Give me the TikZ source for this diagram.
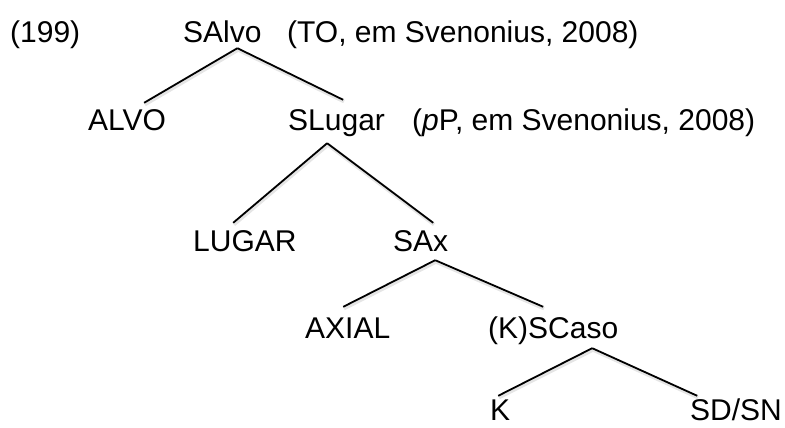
\documentclass[tikz,border=0pt]{standalone}
\usepackage{fontspec}
\setmainfont{Liberation Sans}
\usepackage{tikz}
\usetikzlibrary{positioning}

\begin{document}
\begin{tikzpicture}[
  x=1pt, y=-1pt,
  font=\fontsize{30}{36}\selectfont,
  cat/.style={anchor=base west, inner sep=0pt, text height=21pt, text depth=6pt},
  note/.style={cat},
  branch/.style={line width=1.8pt,
    preaction={draw=black!10, line width=3.5pt, transform canvas={shift={(0.8pt,-1.8pt)}}}},
]
\useasboundingbox (0,0) rectangle (785,428);

% labels, one row per level
\node[cat] (num) at (10,43) {(199)};
\node[cat] (salvo) at (183,43) {SAlvo};
\node[note] (salvo-note) at (287,43) {(TO, em Svenonius, 2008)};

\node[cat] (alvo) at (88,131) {ALVO};
\node[cat] (slugar) at (288,131) {SLugar};
\node[note] (slugar-note) at (412,131) {(\textit{p}P, em Svenonius, 2008)};

\node[cat] (lugar) at (193,251) {LUGAR};
\node[cat] (sax) at (393,251) {SAx};

\node[cat] (axial) at (305,338) {AXIAL};
\node[cat] (kscaso) at (488,338) {(K)SCaso};

\node[cat] (k) at (490,420) {K};
\node[cat] (sdsn) at (690,420) {SD/SN};

% branches
\draw[branch] ([xshift=15pt,yshift=1pt]salvo.south) -- ([xshift=17pt,yshift=7pt]alvo.north);
\draw[branch] ([xshift=15pt,yshift=1pt]salvo.south) -- ([xshift=6.6pt,yshift=10pt]slugar.north);
\draw[branch] ([xshift=-9.4pt,yshift=-6pt]slugar.south) -- ([xshift=-11.7pt,yshift=7pt]lugar.north);
\draw[branch] ([xshift=-9.4pt,yshift=-6pt]slugar.south) -- ([xshift=12.5pt,yshift=7pt]sax.north);
\draw[branch] ([xshift=14.5pt,yshift=-3pt]sax.south) -- ([xshift=-4.5pt,yshift=10pt]axial.north);
\draw[branch] ([xshift=14.5pt,yshift=-3pt]sax.south) -- ([xshift=-10pt,yshift=10pt]kscaso.north);
\draw[branch] ([xshift=39pt,yshift=-4pt]kscaso.south) -- ([xshift=-2pt,yshift=3pt]k.north);
\draw[branch] ([xshift=39pt,yshift=-4pt]kscaso.south) -- ([xshift=-38.8pt,yshift=3pt]sdsn.north);
\end{tikzpicture}
\end{document}
